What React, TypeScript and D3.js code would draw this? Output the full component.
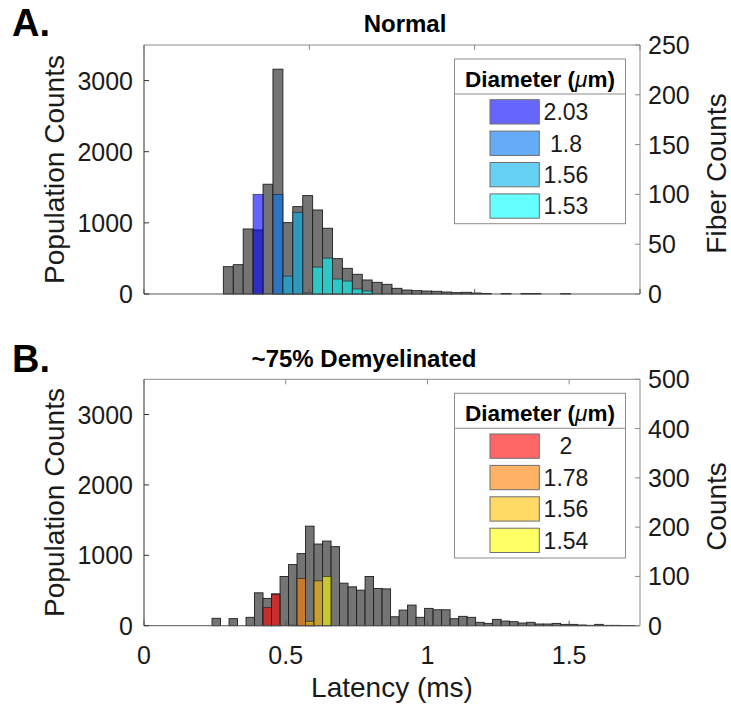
import React from 'react';
import * as d3 from 'd3';

// ---------- data ----------
const BIN_WIDTH = 0.03;
const binLefts = [
  0.24, 0.27, 0.30, 0.33, 0.36, 0.39, 0.42, 0.45, 0.48, 0.51,
  0.54, 0.57, 0.60, 0.63, 0.66, 0.69, 0.72, 0.75, 0.78, 0.81,
  0.84, 0.87, 0.90, 0.93, 0.96, 0.99, 1.02, 1.05, 1.08, 1.11,
  1.14, 1.17, 1.20, 1.23, 1.26, 1.29, 1.32, 1.35, 1.38, 1.41,
  1.44, 1.47, 1.50, 1.53, 1.56, 1.59, 1.62, 1.65, 1.68, 1.71,
];

// population counts per bin (left axis)
const normalPopulation = [
  384, 412, 914, 900, 1543, 3160, 1003, 1228, 1383, 1181,
  924, 497, 361, 277, 197, 164, 136, 80, 56, 47,
  42, 38, 28, 19, 24, 14, 8, 0, 8, 0,
  8, 8, 0, 0, 6,
];
const demyelinatedPopulation = [
  105, 0, 100, 0, 119, 467, 388, 453, 699, 868,
  1024, 1414, 1160, 1202, 1123, 604, 552, 505, 699, 529,
  523, 127, 222, 293, 119, 246, 226, 226, 99, 133,
  119, 48, 33, 90, 66, 57, 38, 48, 24, 24,
  33, 19, 19, 10, 5, 19, 5, 5, 2, 2,
];

// fiber counts per bin (right axis), [bin left edge, count]
const normalDiameters = ['2.03', '1.8', '1.56', '1.53'];
const normalColors = ['#0000ff', '#0073f2', '#00b3ed', '#00ffff'];
const normalFiber203: [number, number][] = [[0.33, 100]];
const normalFiber180: [number, number][] = [[0.39, 100]];
const normalFiber156: [number, number][] = [[0.42, 18], [0.45, 82]];
const normalFiber153: [number, number][] = [
  [0.48, 1], [0.51, 27], [0.54, 36], [0.57, 15], [0.60, 13], [0.63, 5], [0.66, 3],
];

const demyDiameters = ['2', '1.78', '1.56', '1.54'];
const demyColors = ['#ff0000', '#ff7f00', '#ffbf00', '#ffff00'];
const demyFiber200: [number, number][] = [[0.42, 37], [0.45, 63]];
const demyFiber178: [number, number][] = [[0.51, 1], [0.54, 96], [0.57, 3]];
const demyFiber156: [number, number][] = [[0.57, 9], [0.60, 91]];
const demyFiber154: [number, number][] = [[0.63, 100]];

const xTicks = [0, 0.5, 1, 1.5];
const leftTicks = [0, 1000, 2000, 3000];
const normalRightTicks = [0, 50, 100, 150, 200, 250];
const demyRightTicks = [0, 100, 200, 300, 400, 500];

// ---------- layout ----------
const W = 731;
const H = 707;
const PLOT_L = 144;
const PLOT_R = 640;
const FONT = '"Liberation Sans", Arial, Helvetica, sans-serif';
const TEXT = '#1a1a1a';

type PanelProps = {
  top: number;
  bottom: number;
  xMax: number;
  leftMax: number;
  rightMax: number;
  rightTicks: number[];
  population: number[];
  fibers: [number, number][][];
  colors: string[];
  diameters: string[];
  title: string;
  titleX: number;
  titleY: number;
  letter: string;
  letterY: number;
  rightLabel: string;
  showXLabels: boolean;
};

function Panel(p: PanelProps) {
  const x = d3.scaleLinear().domain([0, p.xMax]).range([PLOT_L, PLOT_R]);
  const yL = d3.scaleLinear().domain([0, p.leftMax]).range([p.bottom, p.top]);
  const yR = d3.scaleLinear().domain([0, p.rightMax]).range([p.bottom, p.top]);
  const tick = 5;
  const midY = (p.top + p.bottom) / 2;

  const legTop = p.top + 14;
  const legL = 454.5;
  const legR = 625.5;
  const headerH = 35;
  const rowStart = legTop + 40.7;
  const rowStep = 31.4;
  const swH = 24.3;
  const legBottom = legTop + 164.7;

  return (
    <g>
      <text x={12} y={p.letterY} fontFamily={FONT} fontWeight="bold" fontSize={38} fill="#000">
        {p.letter}
      </text>
      <text x={p.titleX} y={p.titleY} textAnchor="middle" fontFamily={FONT}
        fontWeight="bold" fontSize={24} fill="#000">
        {p.title}
      </text>

      {/* gray population bars */}
      {p.population.map((v, i) =>
        v > 0 ? (
          <rect key={'g' + i}
            x={x(binLefts[i])} y={yL(v)}
            width={x(binLefts[i] + BIN_WIDTH) - x(binLefts[i])}
            height={yL(0) - yL(v)}
            fill="#747474" stroke="#1e1e1e" strokeWidth={0.9} />
        ) : null
      )}

      {/* colored fiber bars */}
      {p.fibers.map((series, si) =>
        series.map(([left, v], i) => (
          <rect key={'f' + si + '-' + i}
            x={x(left)} y={yR(v)}
            width={x(left + BIN_WIDTH) - x(left)}
            height={yR(0) - yR(v)}
            fill={p.colors[si]} fillOpacity={0.6}
            stroke="#1e1e1e" strokeOpacity={0.7} strokeWidth={0.9} />
        ))
      )}

      {/* axes box */}
      <line x1={PLOT_L} x2={PLOT_R} y1={p.top} y2={p.top} stroke="#8a8a8a" strokeWidth={1} />
      <line x1={PLOT_R} x2={PLOT_R} y1={p.top} y2={p.bottom} stroke="#8a8a8a" strokeWidth={1} />
      <line x1={PLOT_L} x2={PLOT_R} y1={p.bottom} y2={p.bottom} stroke="#555" strokeWidth={1} />
      <line x1={PLOT_L} x2={PLOT_L} y1={p.top} y2={p.bottom} stroke="#333" strokeWidth={1} />

      {/* x ticks */}
      {xTicks.filter((t) => t <= p.xMax).map((t) => (
        <g key={'xt' + t}>
          <line x1={x(t)} x2={x(t)} y1={p.bottom} y2={p.bottom - tick} stroke="#555" />
          <line x1={x(t)} x2={x(t)} y1={p.top} y2={p.top + tick} stroke="#8a8a8a" />
          {p.showXLabels ? (
            <text x={x(t)} y={p.bottom + 38} textAnchor="middle" fontFamily={FONT}
              fontSize={25} fill={TEXT}>
              {String(t)}
            </text>
          ) : null}
        </g>
      ))}

      {/* left ticks */}
      {leftTicks.map((t) => (
        <g key={'lt' + t}>
          <line x1={PLOT_L} x2={PLOT_L + tick} y1={yL(t)} y2={yL(t)} stroke="#333" />
          <text x={133} y={yL(t)} dy="0.36em" textAnchor="end" fontFamily={FONT}
            fontSize={25} fill={TEXT}>
            {String(t)}
          </text>
        </g>
      ))}

      {/* right ticks */}
      {p.rightTicks.map((t) => (
        <g key={'rt' + t}>
          <line x1={PLOT_R} x2={PLOT_R - tick} y1={yR(t)} y2={yR(t)} stroke="#8a8a8a" />
          <text x={648} y={yR(t)} dy="0.36em" textAnchor="start" fontFamily={FONT}
            fontSize={25} fill={TEXT}>
            {String(t)}
          </text>
        </g>
      ))}

      <text transform={`translate(54,${midY}) rotate(-90)`} textAnchor="middle"
        dy="0.36em" fontFamily={FONT} fontSize={28} fill={TEXT}>
        Population Counts
      </text>
      <text transform={`translate(716,${midY + 4}) rotate(-90)`} textAnchor="middle"
        dy="0.36em" fontFamily={FONT} fontSize={28} fill={TEXT}>
        {p.rightLabel}
      </text>

      {/* legend */}
      <rect x={legL} y={legTop} width={legR - legL} height={legBottom - legTop}
        fill="#fff" stroke="#8c8c8c" strokeWidth={1} />
      <line x1={legL} x2={legR} y1={legTop + headerH} y2={legTop + headerH}
        stroke="#8c8c8c" strokeWidth={1} />
      <text x={(legL + legR) / 2} y={legTop + 27.7} textAnchor="middle" fontFamily={FONT}
        fontSize={22.5} fontWeight="bold" fill="#000">
        Diameter (<tspan fontStyle="italic" fontWeight="normal">μ</tspan>m)
      </text>
      {p.diameters.map((d, i) => (
        <g key={'lg' + i}>
          <rect x={490} y={rowStart + i * rowStep} width={49.3} height={swH}
            fill={p.colors[i]} fillOpacity={0.6} stroke="#6e6e6e" strokeWidth={1} />
          <text x={566} y={rowStart + i * rowStep + swH / 2} dy="0.36em" textAnchor="middle"
            fontFamily={FONT} fontSize={23} fill={TEXT}>
            {d}
          </text>
        </g>
      ))}
    </g>
  );
}

export default function App() {
  return (
    <svg width={W} height={H} viewBox={`0 0 ${W} ${H}`}
      style={{ position: 'absolute', left: 0, top: 0, background: '#fff' }}>
      <rect x={0} y={0} width={W} height={H} fill="#fff" />
      <Panel
        top={45} bottom={294} xMax={1.5} leftMax={3500} rightMax={250}
        rightTicks={normalRightTicks} population={normalPopulation}
        fibers={[normalFiber203, normalFiber180, normalFiber156, normalFiber153]}
        colors={normalColors} diameters={normalDiameters}
        title="Normal" titleX={405} titleY={32} letter="A." letterY={36}
        rightLabel="Fiber Counts" showXLabels={false}
      />
      <Panel
        top={379.3} bottom={625.7} xMax={1.75} leftMax={3500} rightMax={500}
        rightTicks={demyRightTicks} population={demyelinatedPopulation}
        fibers={[demyFiber200, demyFiber178, demyFiber156, demyFiber154]}
        colors={demyColors} diameters={demyDiameters}
        title="~75% Demyelinated" titleX={364} titleY={367} letter="B." letterY={372}
        rightLabel="Counts" showXLabels={true}
      />
      <text x={(PLOT_L + PLOT_R) / 2} y={697} textAnchor="middle" fontFamily={FONT}
        fontSize={28} fill={TEXT}>
        Latency (ms)
      </text>
    </svg>
  );
}
